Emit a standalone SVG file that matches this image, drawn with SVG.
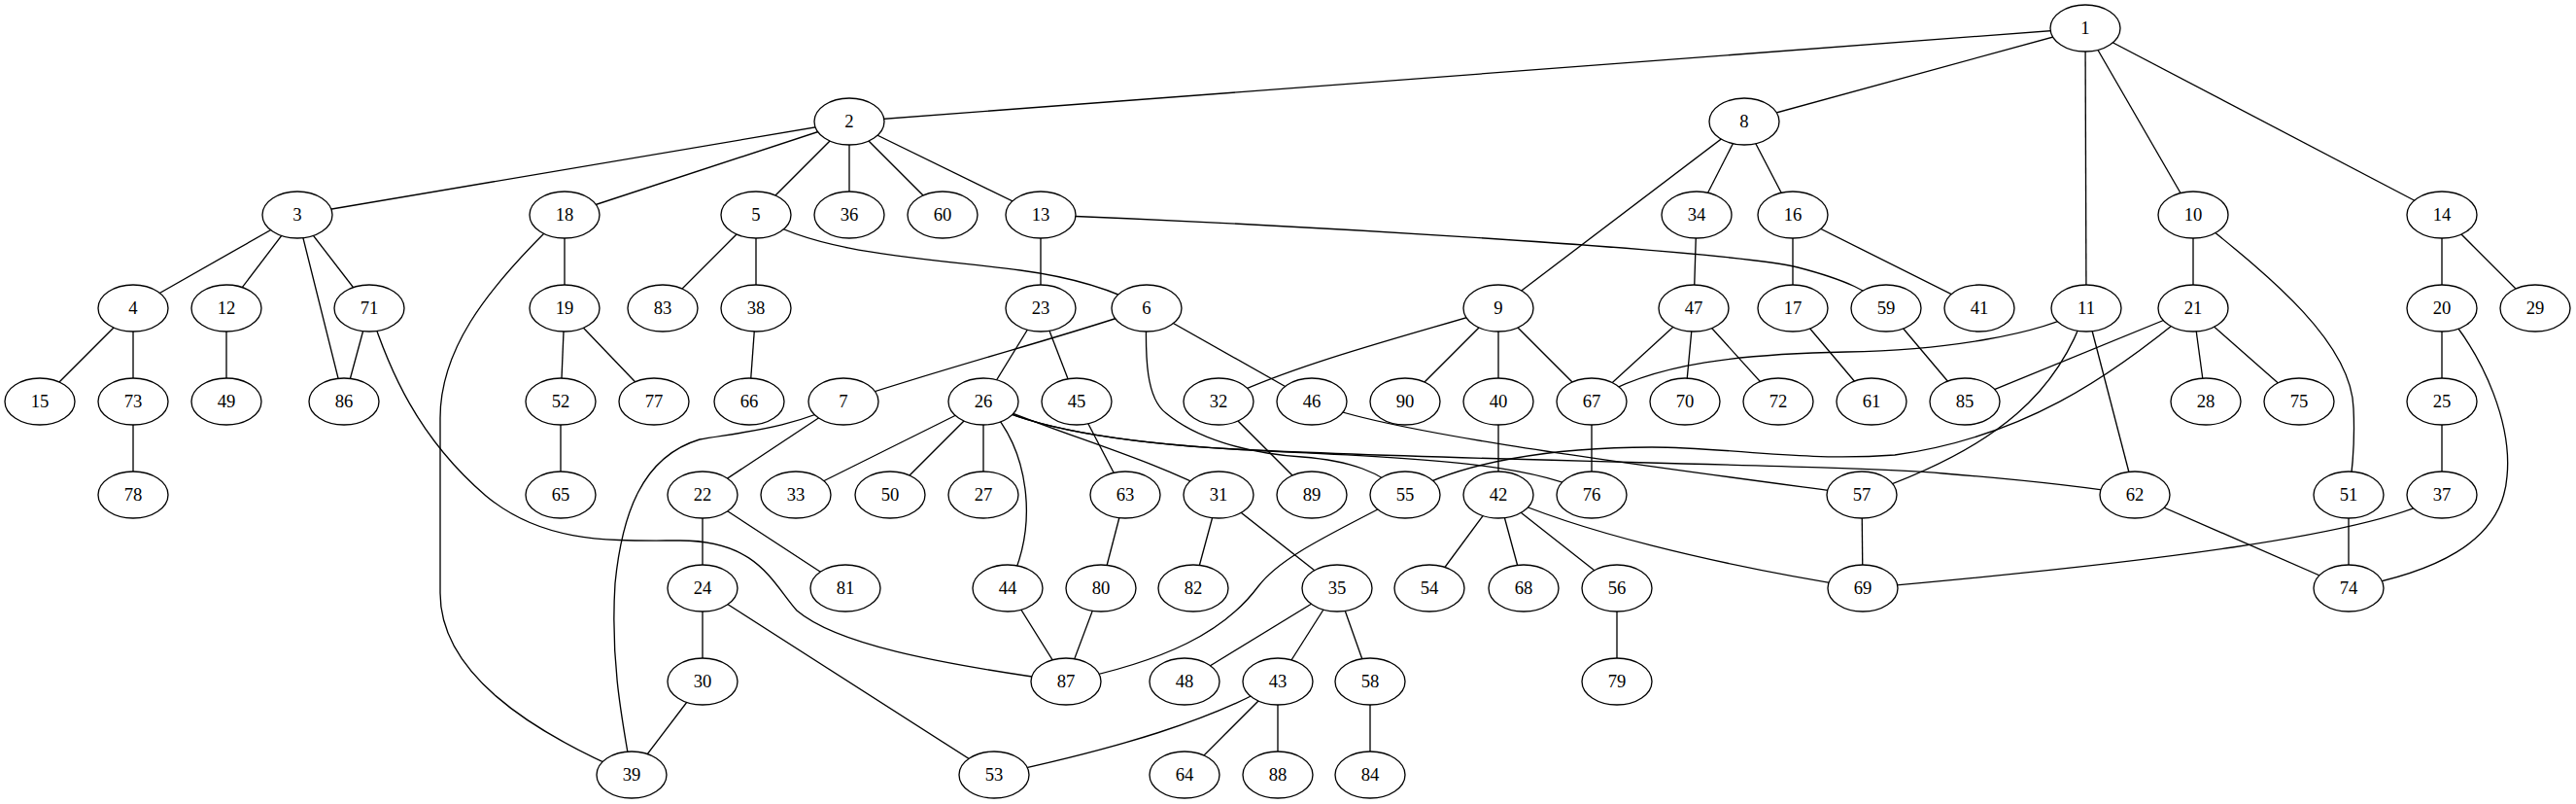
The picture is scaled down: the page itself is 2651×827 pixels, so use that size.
<svg xmlns="http://www.w3.org/2000/svg" width="2651" height="827" viewBox="0 0 2651 827">
<style>
.e{fill:none;stroke:#000;stroke-width:1.33}
.n ellipse{fill:#fff;stroke:#000;stroke-width:1.33}
.n text{font-family:"Liberation Serif","Times New Roman",serif;font-size:18.67px;text-anchor:middle;fill:#000}
</style>
<rect width="2651" height="827" fill="#fff"/>
<g id="edges">
<path class="e" d="M2146,29L874,125"/>
<path class="e" d="M2146,29L1795,125"/>
<path class="e" d="M2146,29L2147,317"/>
<path class="e" d="M2146,29L2257,221"/>
<path class="e" d="M2146,29L2513,221"/>
<path class="e" d="M874,125L306,221"/>
<path class="e" d="M874,125L581,221"/>
<path class="e" d="M874,125L778,221"/>
<path class="e" d="M874,125L874,221"/>
<path class="e" d="M874,125L970,221"/>
<path class="e" d="M874,125L1071,221"/>
<path class="e" d="M306,221L137,317"/>
<path class="e" d="M306,221L233,317"/>
<path class="e" d="M306,221L354,413"/>
<path class="e" d="M306,221L380,317"/>
<path class="e" d="M137,317L41,413"/>
<path class="e" d="M137,317L137,413"/>
<path class="e" d="M137,413L137,509"/>
<path class="e" d="M233,317L233,413"/>
<path class="e" d="M380,317L354,413"/>
<path class="e" d="M380,317C400,380 430,450 500,510C560,560 630,556 700,556C780,556 795,600 820,628C860,662 960,682 1097,701"/>
<path class="e" d="M581,221L581,317"/>
<path class="e" d="M560,240C500,300 453,360 453,430L453,610C453,690 540,750 650,797"/>
<path class="e" d="M581,317L577,413"/>
<path class="e" d="M581,317L673,413"/>
<path class="e" d="M577,413L577,509"/>
<path class="e" d="M778,221L682,317"/>
<path class="e" d="M778,221L778,317"/>
<path class="e" d="M778,221C840,262 960,266 1050,278C1110,286 1150,300 1180,317"/>
<path class="e" d="M778,317L771,413"/>
<path class="e" d="M1071,221L1071,317"/>
<path class="e" d="M1071,221C1350,232 1780,258 1850,275C1900,288 1925,300 1941,317"/>
<path class="e" d="M1071,317L1012,413"/>
<path class="e" d="M1071,317L1108,413"/>
<path class="e" d="M1180,317C1100,345 1000,370 868,413"/>
<path class="e" d="M1180,317L1350,413"/>
<path class="e" d="M1180,317C1178,370 1180,410 1200,425C1230,450 1280,466 1340,470C1390,474 1420,485 1446,509"/>
<path class="e" d="M1012,413C1060,440 1150,455 1270,462C1400,470 1570,470 1638,509"/>
<path class="e" d="M1012,413C1060,440 1150,455 1270,462C1500,474 1900,478 2000,487C2100,495 2160,503 2197,509"/>
<path class="e" d="M1350,413C1420,445 1700,480 1916,509"/>
<path class="e" d="M1012,413L819,509"/>
<path class="e" d="M1012,413L916,509"/>
<path class="e" d="M1012,413L1012,509"/>
<path class="e" d="M1012,413C1060,460 1070,540 1037,605"/>
<path class="e" d="M1012,413C1100,450 1180,470 1254,509"/>
<path class="e" d="M1108,413L1158,509"/>
<path class="e" d="M1158,509L1133,605"/>
<path class="e" d="M1133,605L1097,701"/>
<path class="e" d="M1037,605L1097,701"/>
<path class="e" d="M1446,509C1380,545 1320,570 1295,603C1260,650 1200,680 1097,701"/>
<path class="e" d="M1254,413L1350,509"/>
<path class="e" d="M1254,509L1228,605"/>
<path class="e" d="M1254,509L1376,605"/>
<path class="e" d="M1376,605L1219,701"/>
<path class="e" d="M1376,605L1315,701"/>
<path class="e" d="M1376,605L1410,701"/>
<path class="e" d="M1315,701C1250,740 1150,770 1023,797"/>
<path class="e" d="M1315,701L1219,797"/>
<path class="e" d="M1315,701L1315,797"/>
<path class="e" d="M1410,701L1410,797"/>
<path class="e" d="M868,413L723,509"/>
<path class="e" d="M868,413C820,440 760,445 720,452C660,470 640,530 633,600C628,680 640,740 650,797"/>
<path class="e" d="M723,509L723,605"/>
<path class="e" d="M723,509L870,605"/>
<path class="e" d="M723,605L723,701"/>
<path class="e" d="M723,605L1023,797"/>
<path class="e" d="M723,701L650,797"/>
<path class="e" d="M1795,125L1542,317"/>
<path class="e" d="M1795,125L1746,221"/>
<path class="e" d="M1795,125L1845,221"/>
<path class="e" d="M1746,221L1743,317"/>
<path class="e" d="M1743,317L1638,413"/>
<path class="e" d="M1743,317L1734,413"/>
<path class="e" d="M1743,317L1830,413"/>
<path class="e" d="M1845,221L1845,317"/>
<path class="e" d="M1845,221L2037,317"/>
<path class="e" d="M1845,317L1926,413"/>
<path class="e" d="M1941,317L2022,413"/>
<path class="e" d="M1542,317C1450,345 1330,375 1254,413"/>
<path class="e" d="M1542,317L1446,413"/>
<path class="e" d="M1542,317L1542,413"/>
<path class="e" d="M1542,317L1638,413"/>
<path class="e" d="M1542,413L1542,509"/>
<path class="e" d="M1638,413L1638,509"/>
<path class="e" d="M1542,509L1471,605"/>
<path class="e" d="M1542,509L1568,605"/>
<path class="e" d="M1542,509L1664,605"/>
<path class="e" d="M1542,509C1620,545 1760,580 1917,605"/>
<path class="e" d="M1664,605L1664,701"/>
<path class="e" d="M2147,317C2100,345 2000,360 1900,362C1800,364 1700,372 1638,413"/>
<path class="e" d="M2147,317C2120,400 2060,460 1916,509"/>
<path class="e" d="M2147,317L2197,509"/>
<path class="e" d="M2257,221L2257,317"/>
<path class="e" d="M2257,221C2330,280 2420,350 2422,420C2424,460 2420,490 2417,509"/>
<path class="e" d="M2257,317L2022,413"/>
<path class="e" d="M2257,317L2270,413"/>
<path class="e" d="M2257,317L2366,413"/>
<path class="e" d="M2257,317C2170,390 2080,450 1950,468C1850,475 1780,460 1700,460C1600,460 1500,475 1446,509"/>
<path class="e" d="M2513,221L2513,317"/>
<path class="e" d="M2513,221L2609,317"/>
<path class="e" d="M2513,317L2513,413"/>
<path class="e" d="M2513,317C2560,370 2585,440 2580,490C2575,560 2500,590 2417,605"/>
<path class="e" d="M2513,413L2513,509"/>
<path class="e" d="M2513,509C2450,550 2200,580 1917,605"/>
<path class="e" d="M2417,509L2417,605"/>
<path class="e" d="M2197,509L2417,605"/>
<path class="e" d="M1916,509L1917,605"/>
</g>
<g id="node1" class="n"><ellipse cx="2146" cy="29" rx="36" ry="24"/><text x="2146" y="35">1</text></g>
<g id="node2" class="n"><ellipse cx="874" cy="125" rx="36" ry="24"/><text x="874" y="131">2</text></g>
<g id="node8" class="n"><ellipse cx="1795" cy="125" rx="36" ry="24"/><text x="1795" y="131">8</text></g>
<g id="node3" class="n"><ellipse cx="306" cy="221" rx="36" ry="24"/><text x="306" y="227">3</text></g>
<g id="node18" class="n"><ellipse cx="581" cy="221" rx="36" ry="24"/><text x="581" y="227">18</text></g>
<g id="node5" class="n"><ellipse cx="778" cy="221" rx="36" ry="24"/><text x="778" y="227">5</text></g>
<g id="node36" class="n"><ellipse cx="874" cy="221" rx="36" ry="24"/><text x="874" y="227">36</text></g>
<g id="node60" class="n"><ellipse cx="970" cy="221" rx="36" ry="24"/><text x="970" y="227">60</text></g>
<g id="node13" class="n"><ellipse cx="1071" cy="221" rx="36" ry="24"/><text x="1071" y="227">13</text></g>
<g id="node34" class="n"><ellipse cx="1746" cy="221" rx="36" ry="24"/><text x="1746" y="227">34</text></g>
<g id="node16" class="n"><ellipse cx="1845" cy="221" rx="36" ry="24"/><text x="1845" y="227">16</text></g>
<g id="node10" class="n"><ellipse cx="2257" cy="221" rx="36" ry="24"/><text x="2257" y="227">10</text></g>
<g id="node14" class="n"><ellipse cx="2513" cy="221" rx="36" ry="24"/><text x="2513" y="227">14</text></g>
<g id="node4" class="n"><ellipse cx="137" cy="317" rx="36" ry="24"/><text x="137" y="323">4</text></g>
<g id="node12" class="n"><ellipse cx="233" cy="317" rx="36" ry="24"/><text x="233" y="323">12</text></g>
<g id="node71" class="n"><ellipse cx="380" cy="317" rx="36" ry="24"/><text x="380" y="323">71</text></g>
<g id="node19" class="n"><ellipse cx="581" cy="317" rx="36" ry="24"/><text x="581" y="323">19</text></g>
<g id="node83" class="n"><ellipse cx="682" cy="317" rx="36" ry="24"/><text x="682" y="323">83</text></g>
<g id="node38" class="n"><ellipse cx="778" cy="317" rx="36" ry="24"/><text x="778" y="323">38</text></g>
<g id="node23" class="n"><ellipse cx="1071" cy="317" rx="36" ry="24"/><text x="1071" y="323">23</text></g>
<g id="node6" class="n"><ellipse cx="1180" cy="317" rx="36" ry="24"/><text x="1180" y="323">6</text></g>
<g id="node9" class="n"><ellipse cx="1542" cy="317" rx="36" ry="24"/><text x="1542" y="323">9</text></g>
<g id="node47" class="n"><ellipse cx="1743" cy="317" rx="36" ry="24"/><text x="1743" y="323">47</text></g>
<g id="node17" class="n"><ellipse cx="1845" cy="317" rx="36" ry="24"/><text x="1845" y="323">17</text></g>
<g id="node59" class="n"><ellipse cx="1941" cy="317" rx="36" ry="24"/><text x="1941" y="323">59</text></g>
<g id="node41" class="n"><ellipse cx="2037" cy="317" rx="36" ry="24"/><text x="2037" y="323">41</text></g>
<g id="node11" class="n"><ellipse cx="2147" cy="317" rx="36" ry="24"/><text x="2147" y="323">11</text></g>
<g id="node21" class="n"><ellipse cx="2257" cy="317" rx="36" ry="24"/><text x="2257" y="323">21</text></g>
<g id="node20" class="n"><ellipse cx="2513" cy="317" rx="36" ry="24"/><text x="2513" y="323">20</text></g>
<g id="node29" class="n"><ellipse cx="2609" cy="317" rx="36" ry="24"/><text x="2609" y="323">29</text></g>
<g id="node15" class="n"><ellipse cx="41" cy="413" rx="36" ry="24"/><text x="41" y="419">15</text></g>
<g id="node73" class="n"><ellipse cx="137" cy="413" rx="36" ry="24"/><text x="137" y="419">73</text></g>
<g id="node49" class="n"><ellipse cx="233" cy="413" rx="36" ry="24"/><text x="233" y="419">49</text></g>
<g id="node86" class="n"><ellipse cx="354" cy="413" rx="36" ry="24"/><text x="354" y="419">86</text></g>
<g id="node52" class="n"><ellipse cx="577" cy="413" rx="36" ry="24"/><text x="577" y="419">52</text></g>
<g id="node77" class="n"><ellipse cx="673" cy="413" rx="36" ry="24"/><text x="673" y="419">77</text></g>
<g id="node66" class="n"><ellipse cx="771" cy="413" rx="36" ry="24"/><text x="771" y="419">66</text></g>
<g id="node7" class="n"><ellipse cx="868" cy="413" rx="36" ry="24"/><text x="868" y="419">7</text></g>
<g id="node26" class="n"><ellipse cx="1012" cy="413" rx="36" ry="24"/><text x="1012" y="419">26</text></g>
<g id="node45" class="n"><ellipse cx="1108" cy="413" rx="36" ry="24"/><text x="1108" y="419">45</text></g>
<g id="node32" class="n"><ellipse cx="1254" cy="413" rx="36" ry="24"/><text x="1254" y="419">32</text></g>
<g id="node46" class="n"><ellipse cx="1350" cy="413" rx="36" ry="24"/><text x="1350" y="419">46</text></g>
<g id="node90" class="n"><ellipse cx="1446" cy="413" rx="36" ry="24"/><text x="1446" y="419">90</text></g>
<g id="node40" class="n"><ellipse cx="1542" cy="413" rx="36" ry="24"/><text x="1542" y="419">40</text></g>
<g id="node67" class="n"><ellipse cx="1638" cy="413" rx="36" ry="24"/><text x="1638" y="419">67</text></g>
<g id="node70" class="n"><ellipse cx="1734" cy="413" rx="36" ry="24"/><text x="1734" y="419">70</text></g>
<g id="node72" class="n"><ellipse cx="1830" cy="413" rx="36" ry="24"/><text x="1830" y="419">72</text></g>
<g id="node61" class="n"><ellipse cx="1926" cy="413" rx="36" ry="24"/><text x="1926" y="419">61</text></g>
<g id="node85" class="n"><ellipse cx="2022" cy="413" rx="36" ry="24"/><text x="2022" y="419">85</text></g>
<g id="node28" class="n"><ellipse cx="2270" cy="413" rx="36" ry="24"/><text x="2270" y="419">28</text></g>
<g id="node75" class="n"><ellipse cx="2366" cy="413" rx="36" ry="24"/><text x="2366" y="419">75</text></g>
<g id="node25" class="n"><ellipse cx="2513" cy="413" rx="36" ry="24"/><text x="2513" y="419">25</text></g>
<g id="node78" class="n"><ellipse cx="137" cy="509" rx="36" ry="24"/><text x="137" y="515">78</text></g>
<g id="node65" class="n"><ellipse cx="577" cy="509" rx="36" ry="24"/><text x="577" y="515">65</text></g>
<g id="node22" class="n"><ellipse cx="723" cy="509" rx="36" ry="24"/><text x="723" y="515">22</text></g>
<g id="node33" class="n"><ellipse cx="819" cy="509" rx="36" ry="24"/><text x="819" y="515">33</text></g>
<g id="node50" class="n"><ellipse cx="916" cy="509" rx="36" ry="24"/><text x="916" y="515">50</text></g>
<g id="node27" class="n"><ellipse cx="1012" cy="509" rx="36" ry="24"/><text x="1012" y="515">27</text></g>
<g id="node63" class="n"><ellipse cx="1158" cy="509" rx="36" ry="24"/><text x="1158" y="515">63</text></g>
<g id="node31" class="n"><ellipse cx="1254" cy="509" rx="36" ry="24"/><text x="1254" y="515">31</text></g>
<g id="node89" class="n"><ellipse cx="1350" cy="509" rx="36" ry="24"/><text x="1350" y="515">89</text></g>
<g id="node55" class="n"><ellipse cx="1446" cy="509" rx="36" ry="24"/><text x="1446" y="515">55</text></g>
<g id="node42" class="n"><ellipse cx="1542" cy="509" rx="36" ry="24"/><text x="1542" y="515">42</text></g>
<g id="node76" class="n"><ellipse cx="1638" cy="509" rx="36" ry="24"/><text x="1638" y="515">76</text></g>
<g id="node57" class="n"><ellipse cx="1916" cy="509" rx="36" ry="24"/><text x="1916" y="515">57</text></g>
<g id="node62" class="n"><ellipse cx="2197" cy="509" rx="36" ry="24"/><text x="2197" y="515">62</text></g>
<g id="node51" class="n"><ellipse cx="2417" cy="509" rx="36" ry="24"/><text x="2417" y="515">51</text></g>
<g id="node37" class="n"><ellipse cx="2513" cy="509" rx="36" ry="24"/><text x="2513" y="515">37</text></g>
<g id="node24" class="n"><ellipse cx="723" cy="605" rx="36" ry="24"/><text x="723" y="611">24</text></g>
<g id="node81" class="n"><ellipse cx="870" cy="605" rx="36" ry="24"/><text x="870" y="611">81</text></g>
<g id="node44" class="n"><ellipse cx="1037" cy="605" rx="36" ry="24"/><text x="1037" y="611">44</text></g>
<g id="node80" class="n"><ellipse cx="1133" cy="605" rx="36" ry="24"/><text x="1133" y="611">80</text></g>
<g id="node82" class="n"><ellipse cx="1228" cy="605" rx="36" ry="24"/><text x="1228" y="611">82</text></g>
<g id="node35" class="n"><ellipse cx="1376" cy="605" rx="36" ry="24"/><text x="1376" y="611">35</text></g>
<g id="node54" class="n"><ellipse cx="1471" cy="605" rx="36" ry="24"/><text x="1471" y="611">54</text></g>
<g id="node68" class="n"><ellipse cx="1568" cy="605" rx="36" ry="24"/><text x="1568" y="611">68</text></g>
<g id="node56" class="n"><ellipse cx="1664" cy="605" rx="36" ry="24"/><text x="1664" y="611">56</text></g>
<g id="node69" class="n"><ellipse cx="1917" cy="605" rx="36" ry="24"/><text x="1917" y="611">69</text></g>
<g id="node74" class="n"><ellipse cx="2417" cy="605" rx="36" ry="24"/><text x="2417" y="611">74</text></g>
<g id="node30" class="n"><ellipse cx="723" cy="701" rx="36" ry="24"/><text x="723" y="707">30</text></g>
<g id="node87" class="n"><ellipse cx="1097" cy="701" rx="36" ry="24"/><text x="1097" y="707">87</text></g>
<g id="node48" class="n"><ellipse cx="1219" cy="701" rx="36" ry="24"/><text x="1219" y="707">48</text></g>
<g id="node43" class="n"><ellipse cx="1315" cy="701" rx="36" ry="24"/><text x="1315" y="707">43</text></g>
<g id="node58" class="n"><ellipse cx="1410" cy="701" rx="36" ry="24"/><text x="1410" y="707">58</text></g>
<g id="node79" class="n"><ellipse cx="1664" cy="701" rx="36" ry="24"/><text x="1664" y="707">79</text></g>
<g id="node39" class="n"><ellipse cx="650" cy="797" rx="36" ry="24"/><text x="650" y="803">39</text></g>
<g id="node53" class="n"><ellipse cx="1023" cy="797" rx="36" ry="24"/><text x="1023" y="803">53</text></g>
<g id="node64" class="n"><ellipse cx="1219" cy="797" rx="36" ry="24"/><text x="1219" y="803">64</text></g>
<g id="node88" class="n"><ellipse cx="1315" cy="797" rx="36" ry="24"/><text x="1315" y="803">88</text></g>
<g id="node84" class="n"><ellipse cx="1410" cy="797" rx="36" ry="24"/><text x="1410" y="803">84</text></g>
</svg>
